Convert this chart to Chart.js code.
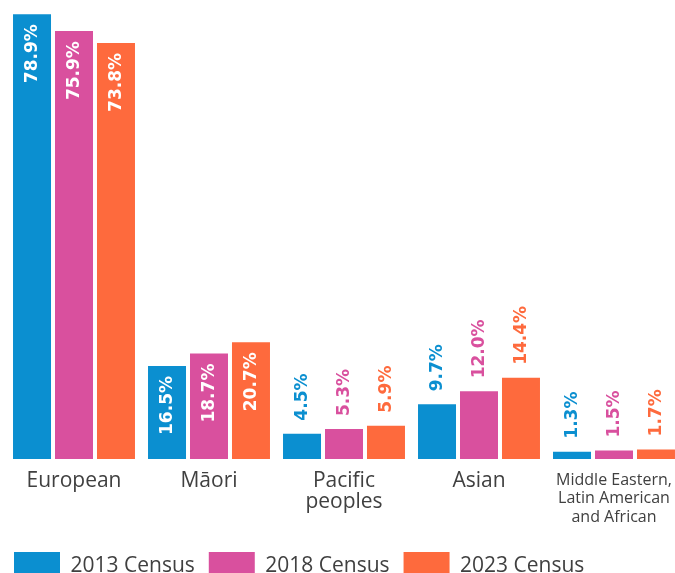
<!DOCTYPE html>
<html>
<head>
<meta charset="utf-8">
<script src="https://cdn.jsdelivr.net/npm/chart.js@4"></script>
<style>
  html, body { margin: 0; padding: 0; background: #fff; overflow: hidden; }
  #wrap { width: 690px; height: 590px; }
</style>
</head>
<body>
<div id="wrap"><canvas id="census"></canvas></div>
<script>
const categories = [
  'European',
  'Māori',
  ['Pacific', 'peoples'],
  'Asian',
  ['Middle Eastern,', 'Latin American', 'and African']
];
const census2013 = [78.9, 16.5, 4.5, 9.7, 1.3];
const census2018 = [75.9, 18.7, 5.3, 12.0, 1.5];
const census2023 = [73.8, 20.7, 5.9, 14.4, 1.7];
const seriesNames = ['2013 Census', '2018 Census', '2023 Census'];
const seriesColors = ['#0b8fd0', '#d9509e', '#fe6a3d'];

const textGrey = '#404040';
const insideCutoff = 15;

// percentage labels written up the bars: white inside tall bars, coloured above short ones
const valueLabels = {
  id: 'valueLabels',
  afterDatasetsDraw(chart) {
    const ctx = chart.ctx;
    ctx.save();
    ctx.font = 'bold 17px "DejaVu Sans"';
    ctx.textBaseline = 'middle';
    chart.data.datasets.forEach((ds, i) => {
      chart.getDatasetMeta(i).data.forEach((bar, j) => {
        const v = ds.data[j];
        const text = v.toFixed(1) + '%';
        ctx.save();
        if (v > insideCutoff) {
          ctx.translate(bar.x, bar.y + 10);
          ctx.rotate(-Math.PI / 2);
          ctx.textAlign = 'right';
          ctx.fillStyle = '#fff';
        } else {
          ctx.translate(bar.x, bar.y - 13);
          ctx.rotate(-Math.PI / 2);
          ctx.textAlign = 'left';
          ctx.fillStyle = ds.backgroundColor;
        }
        ctx.fillText(text, 0, 1);
        ctx.restore();
      });
    });
    ctx.restore();
  }
};

new Chart(document.getElementById('census'), {
  type: 'bar',
  data: {
    labels: categories,
    datasets: [census2013, census2018, census2023].map((vals, i) => ({
      label: seriesNames[i],
      data: vals,
      backgroundColor: seriesColors[i],
      categoryPercentage: 0.933,
      barPercentage: 0.905
    }))
  },
  options: {
    responsive: true,
    maintainAspectRatio: false,
    animation: false,
    layout: { padding: { top: 8, right: 8.5, left: 0, bottom: 0 } },
    plugins: {
      tooltip: { enabled: false },
      legend: {
        position: 'bottom',
        align: 'start',
        labels: {
          boxWidth: 46,
          boxHeight: 28,
          padding: 14,
          color: textGrey,
          font: { family: '"Open Sans"', size: 21 }
        }
      }
    },
    scales: {
      x: {
        grid: { display: false, drawTicks: false },
        border: { display: false },
        afterFit: (scale) => { scale.height = 79; },
        ticks: {
          padding: 12,
          maxRotation: 0,
          autoSkip: false,
          color: textGrey,
          font: (c) => c.index === 4
            ? { family: '"Open Sans"', size: 16, lineHeight: 1.15 }
            : { family: '"Open Sans"', size: 21, lineHeight: 1.0 }
        }
      },
      y: {
        min: 0,
        max: 80,
        grid: { display: false, drawTicks: false },
        border: { display: false },
        ticks: { display: false },
        afterFit: (scale) => { scale.width = 6.5; }
      }
    }
  },
  plugins: [valueLabels]
});
</script>
</body>
</html>
